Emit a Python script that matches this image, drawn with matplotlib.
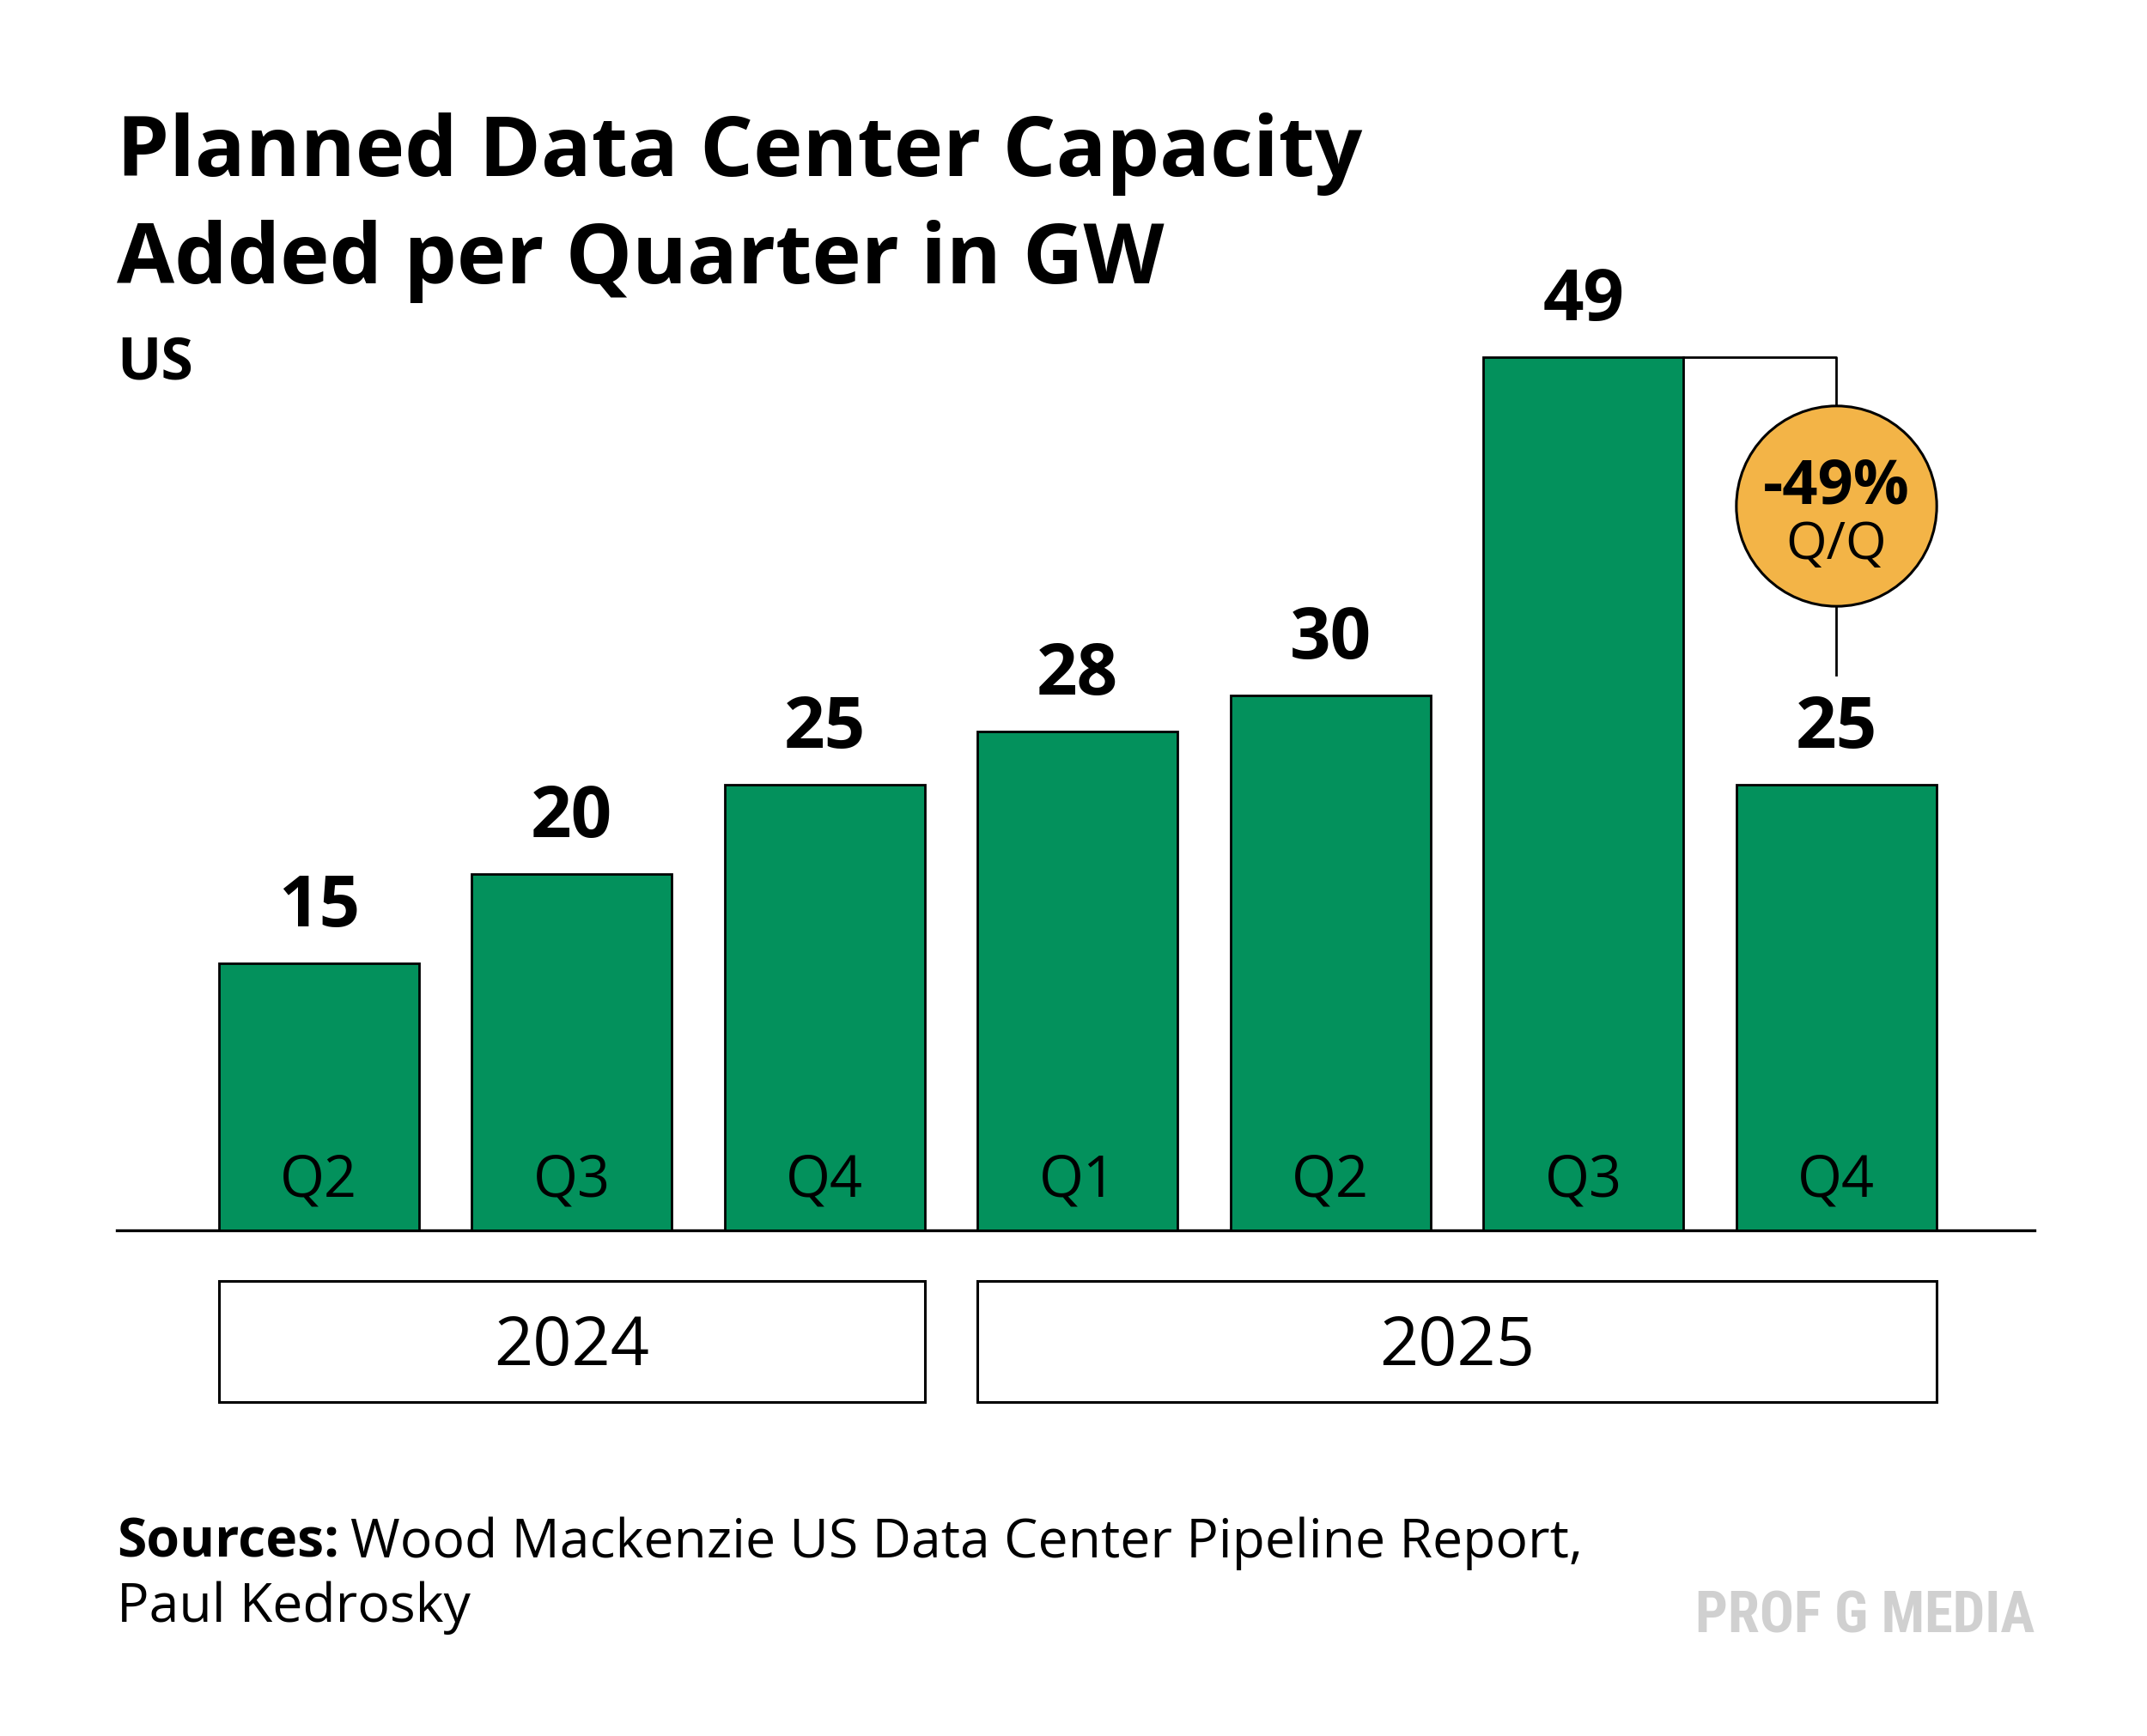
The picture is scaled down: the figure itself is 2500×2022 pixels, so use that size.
import matplotlib
matplotlib.use("Agg")
import matplotlib.pyplot as plt
from matplotlib.patches import Rectangle
from matplotlib import font_manager

# data
quarters = ['Q2', 'Q3', 'Q4', 'Q1', 'Q2', 'Q3', 'Q4']
values = [15, 20, 25, 28, 30, 49, 25]
years = ['2024', '2025']
year_span = [(0, 2), (3, 6)]   # first and last bar index of each year
change_label = '-49%'

GREEN = '#03915C'
ORANGE = '#F3B447'
FONT = 'Open Sans'
W, H = 1562, 1263  # layout grid of the reference

# pick a condensed face for the logo if one is installed
installed = {f.name for f in font_manager.fontManager.ttflist}
narrow = [n for n in ['Roboto Condensed', 'Liberation Sans Narrow',
                      'Open Sans Condensed', 'Noto Sans Condensed',
                      'DejaVu Sans Condensed'] if n in installed]
LOGO_FONT = narrow[0] if narrow else 'DejaVu Sans'

fig = plt.figure(figsize=(25, 20.22), dpi=100)
fig.patch.set_facecolor('white')

ax = fig.add_axes([85 / W, 1 - 895 / H, (1480 - 85) / W, (895 - 200) / H])
ax.set_xlim(-0.799, 6.783)
ax.set_ylim(0, (895 - 200) / 12.96)

bw = 0.79
xs = list(range(len(values)))
ax.bar(xs, values, width=bw, color=GREEN, edgecolor='black', linewidth=2, zorder=3)

for x, v, q in zip(xs, values, quarters):
    ax.annotate(str(v), (x, v), xytext=(0, 31), textcoords='offset points',
                ha='center', va='baseline', fontsize=60, fontweight='bold',
                family=FONT)
    ax.text(x, 1.9, q, ha='center', va='baseline', fontsize=48, family=FONT,
            zorder=4)

for sp in ['top', 'right', 'left']:
    ax.spines[sp].set_visible(False)
ax.spines['bottom'].set_linewidth(2.4)
ax.set_xticks([])
ax.set_yticks([])

# year boxes under the axis
for yr, (a, b) in zip(years, year_span):
    ax.add_patch(Rectangle((a - bw / 2, -9.65), (b - a) + bw, 6.8,
                           facecolor='white', edgecolor='black', linewidth=2.2,
                           clip_on=False))
    ax.text((a + b) / 2, -7.56, yr, ha='center', va='baseline', fontsize=57,
            family=FONT, clip_on=False)

# change bracket and bubble
bottom = values[6] + 6.2
ax.plot([5 + bw / 2, 6, 6], [values[5], values[5], bottom], color='black',
        lw=2, zorder=2)
cy = (values[5] + bottom) / 2 + 0.55
ax.scatter([6], [cy], s=168 ** 2, color=ORANGE, edgecolor='black',
           linewidth=2.2, zorder=5)
ax.annotate(change_label, (6, cy), xytext=(0, 2), textcoords='offset points',
            ha='center', va='baseline', fontsize=52, fontweight='bold',
            family=FONT, zorder=6)
ax.annotate('Q/Q', (6, cy), xytext=(0, -44), textcoords='offset points',
            ha='center', va='baseline', fontsize=44, family=FONT, zorder=6)

# titles
fig.text(85 / W, 1 - 128 / H, 'Planned Data Center Capacity', fontsize=70,
         fontweight='bold', family=FONT, va='baseline')
fig.text(85 / W, 1 - 206 / H, 'Added per Quarter in GW', fontsize=70,
         fontweight='bold', family=FONT, va='baseline')
fig.text(85 / W, 1 - 276 / H, 'US', fontsize=49, fontweight='bold',
         family=FONT, va='baseline')

# sources
src = fig.text(85 / W, 1 - 1133 / H, 'Sources:', fontsize=45, fontweight='bold',
               family=FONT, va='baseline')
fig.canvas.draw()
bb = src.get_window_extent()
fig.text(bb.x1 / fig.bbox.width + 0.005, 1 - 1133 / H,
         'Wood Mackenzie US Data Center Pipeline Report,', fontsize=45,
         family=FONT, va='baseline')
fig.text(85 / W, 1 - 1180 / H, 'Paul Kedrosky', fontsize=45, family=FONT,
         va='baseline')

fig.text(1480 / W, 1 - 1188 / H, 'PROF G MEDIA', fontsize=48, fontweight='bold',
         family=[LOGO_FONT, 'DejaVu Sans'], color='#D0D0D0',
         ha='right', va='baseline')

fig.savefig('out.png', dpi=100, facecolor='white')
